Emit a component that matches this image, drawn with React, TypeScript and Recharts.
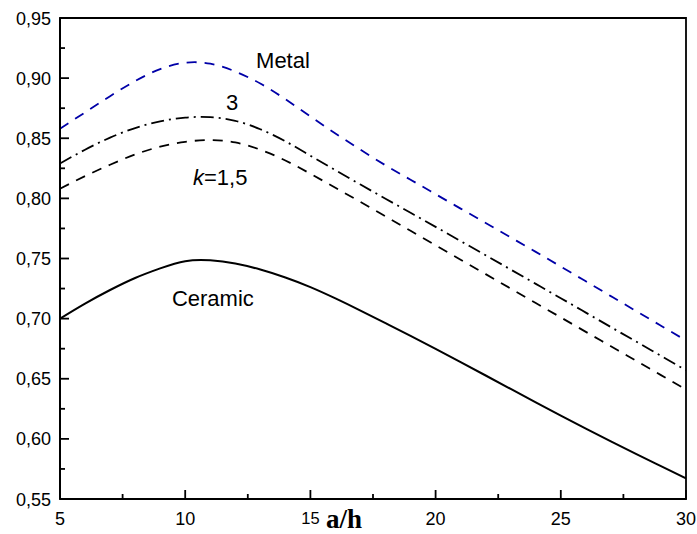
import React from 'react';
import { LineChart, Line, XAxis, YAxis, ReferenceArea, ReferenceDot } from 'recharts';

const xs = [5, 6, 7, 8, 9, 10, 11, 12, 13, 14, 15, 16, 17, 18, 19, 20, 21, 22, 23, 24, 25, 26, 27, 28, 29, 30];
const metal = [0.858, 0.8715, 0.885, 0.8975, 0.9075, 0.9128, 0.912, 0.9055, 0.8955, 0.8825, 0.8682, 0.854, 0.8405, 0.8275, 0.8155, 0.8035, 0.7915, 0.7795, 0.7675, 0.7555, 0.7433, 0.731, 0.7187, 0.7064, 0.6941, 0.6818];
const k3 = [0.829, 0.8405, 0.8505, 0.8585, 0.864, 0.8672, 0.8675, 0.8645, 0.8575, 0.8475, 0.8355, 0.8235, 0.8115, 0.7997, 0.788, 0.7763, 0.7645, 0.7527, 0.7408, 0.7289, 0.717, 0.705, 0.693, 0.681, 0.669, 0.657];
const k15 = [0.808, 0.8185, 0.828, 0.8365, 0.843, 0.847, 0.8485, 0.8465, 0.8405, 0.8315, 0.8205, 0.8088, 0.797, 0.785, 0.773, 0.761, 0.749, 0.737, 0.725, 0.713, 0.701, 0.689, 0.677, 0.665, 0.653, 0.641];
const ceramic = [0.700, 0.7125, 0.7238, 0.7338, 0.7418, 0.7478, 0.7485, 0.7458, 0.7408, 0.7342, 0.7262, 0.7168, 0.7067, 0.6962, 0.6856, 0.6748, 0.6638, 0.6527, 0.6415, 0.6303, 0.6193, 0.6085, 0.5979, 0.5875, 0.5773, 0.5671];

const xTicks = [5, 7.5, 10, 12.5, 15, 17.5, 20, 22.5, 25, 27.5, 30];
const xMajor = [5, 10, 15, 20, 25, 30];
const yTicks = [0.55, 0.575, 0.6, 0.625, 0.65, 0.675, 0.7, 0.725, 0.75, 0.775, 0.8, 0.825, 0.85, 0.875, 0.9, 0.925, 0.95];
const yMajor = [0.55, 0.6, 0.65, 0.7, 0.75, 0.8, 0.85, 0.9, 0.95];

const annotations = [
  { x: 12.83, y: 0.9088, text: 'Metal', anchor: 'start' },
  { x: 11.87, y: 0.8738, text: '3', anchor: 'middle' },
  { x: 9.47, y: 0.7104, text: 'Ceramic', anchor: 'start' },
];
const kLabel = { x: 10.31, y: 0.8113 };

const data = xs.map((x, i) => ({ x, metal: metal[i], k3: k3[i], k15: k15[i], ceramic: ceramic[i] }));

const FONT = '"Liberation Sans", Arial, sans-serif';

const isMajor = (arr: number[], v: number) => arr.some((m) => Math.abs(m - v) < 1e-6);

const XTick = (props: any) => {
  const { x, y, payload } = props;
  const v = payload.value;
  const major = isMajor(xMajor, v);
  const len = major ? 9 : 5;
  const small = Math.abs(v - 15) < 1e-6;
  return (
    <g>
      <line x1={x} x2={x} y1={y} y2={y - len} stroke="#000" strokeWidth={1.8} />
      {major && (
        <text x={x} y={y + (small ? 25 : 26)} textAnchor="middle" fontFamily={FONT} fontSize={small ? 16.5 : 18} fill="#000">
          {v}
        </text>
      )}
    </g>
  );
};

const YTick = (props: any) => {
  const { x, y, payload } = props;
  const v = payload.value;
  const major = isMajor(yMajor, v);
  const len = major ? 9 : 5;
  return (
    <g>
      <line x1={x} x2={x + len} y1={y} y2={y} stroke="#000" strokeWidth={1.8} />
      {major && (
        <text x={x - 9} y={y + 6.5} textAnchor="end" fontFamily={FONT} fontSize={18} fill="#000">
          {v.toFixed(2).replace('.', ',')}
        </text>
      )}
    </g>
  );
};

export default function App() {
  return (
    <div style={{ position: 'absolute', left: 0, top: 0, background: '#fff' }}>
      <LineChart width={697} height={534} data={data} margin={{ top: 18, right: 11, left: 0, bottom: 0 }}>
        <XAxis
          dataKey="x"
          type="number"
          domain={[5, 30]}
          ticks={xTicks}
          interval={0}
          tickSize={0}
          tickMargin={0}
          tickLine={false}
          tick={<XTick />}
          height={35}
          axisLine={{ stroke: '#000', strokeWidth: 2 }}
          allowDataOverflow
          label={{
            content: (p: any) => {
              const vb = p.viewBox;
              return (
                <text x={vb.x + vb.width / 2 - 29} y={vb.y + 29} textAnchor="middle" fontFamily='"Liberation Serif", "Times New Roman", serif' fontWeight="bold" fontSize={27} fill="#000">
                  a/h
                </text>
              );
            },
          }}
        />
        <YAxis
          type="number"
          domain={[0.55, 0.95]}
          ticks={yTicks}
          interval={0}
          tickSize={0}
          tickMargin={0}
          tickLine={false}
          tick={<YTick />}
          width={60}
          axisLine={{ stroke: '#000', strokeWidth: 2 }}
          allowDataOverflow
        />
        <ReferenceArea x1={5} x2={30} y1={0.55} y2={0.95} fill="none" stroke="#000" strokeWidth={1.8} fillOpacity={0} ifOverflow="visible" />
        <Line type="natural" dataKey="metal" stroke="#0000a8" strokeWidth={1.8} strokeDasharray="10 8" dot={false} isAnimationActive={false} />
        <Line type="natural" dataKey="k3" stroke="#000" strokeWidth={1.8} strokeDasharray="13 5 2 5" dot={false} isAnimationActive={false} />
        <Line type="natural" dataKey="k15" stroke="#000" strokeWidth={1.8} strokeDasharray="10 8" dot={false} isAnimationActive={false} />
        <Line type="natural" dataKey="ceramic" stroke="#000" strokeWidth={2} dot={false} isAnimationActive={false} />
        {annotations.map((a) => (
          <ReferenceDot
            key={a.text}
            x={a.x}
            y={a.y}
            r={0}
            ifOverflow="visible"
            shape={(p: any) => (
              <text x={p.cx} y={p.cy} textAnchor={a.anchor as any} fontFamily={FONT} fontSize={22} fill="#000">
                {a.text}
              </text>
            )}
          />
        ))}
        <ReferenceDot
          x={kLabel.x}
          y={kLabel.y}
          r={0}
          ifOverflow="visible"
          shape={(p: any) => (
            <text x={p.cx} y={p.cy} textAnchor="start" fontFamily={FONT} fontSize={22} fill="#000">
              <tspan fontStyle="italic">k</tspan>
              <tspan>=1,5</tspan>
            </text>
          )}
        />
      </LineChart>
    </div>
  );
}
